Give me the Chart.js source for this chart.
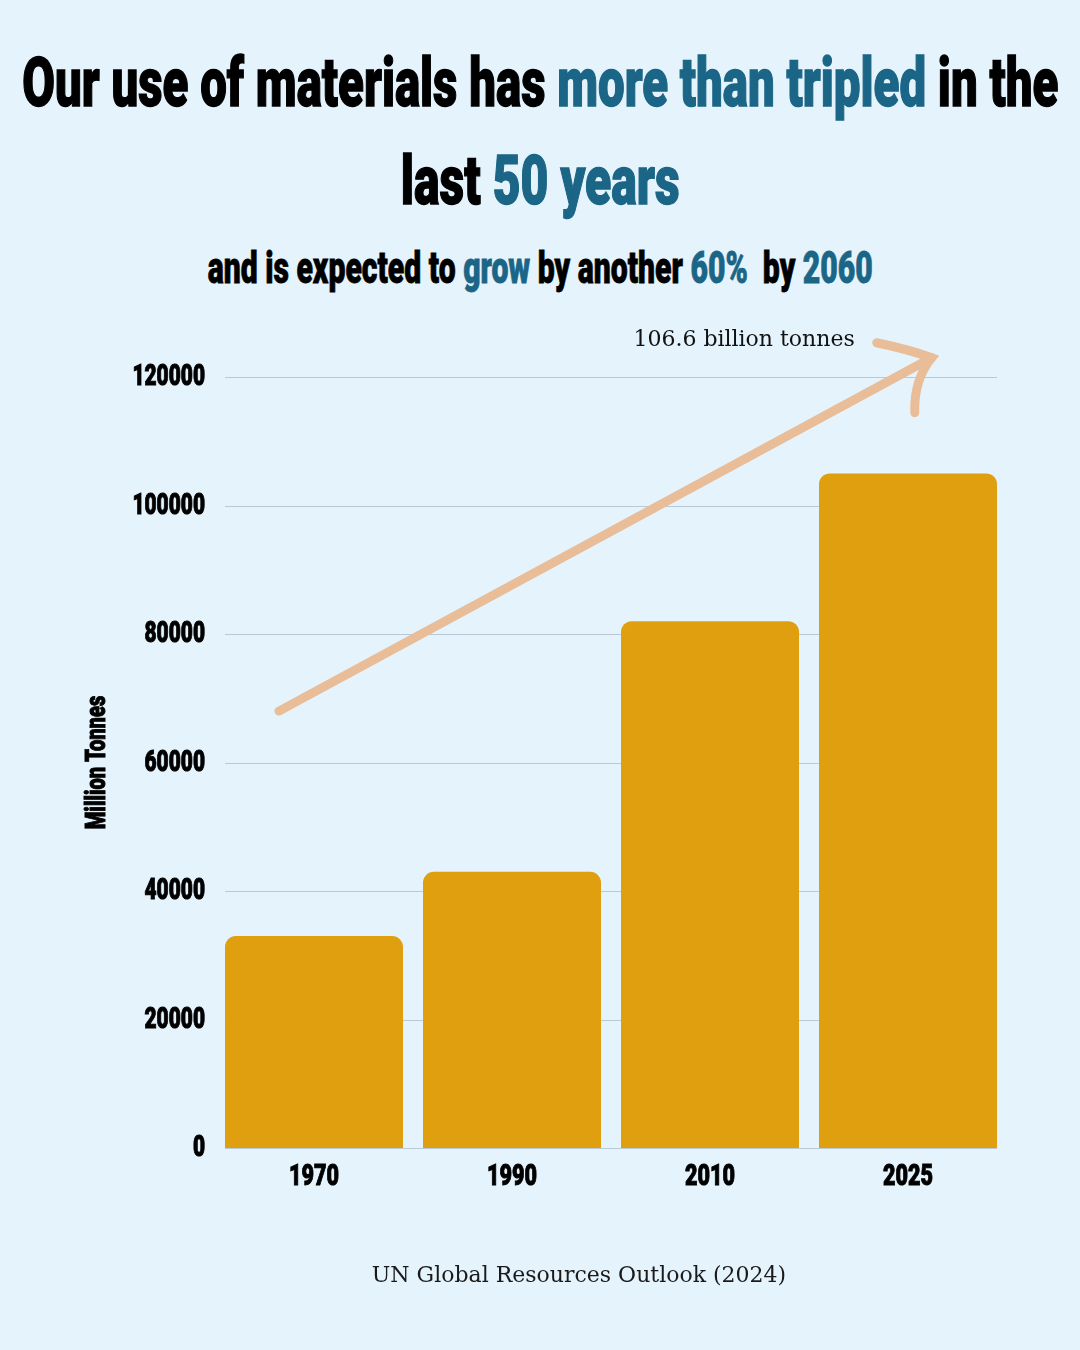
<!DOCTYPE html>
<html>
<head>
<meta charset="utf-8">
<script src="https://cdn.jsdelivr.net/npm/chart.js@4"></script>
<style>
  html, body { margin: 0; padding: 0; }
  body { width: 1080px; height: 1350px; background: #e5f3fc; position: relative; overflow: hidden; }
  .line { position: absolute; left: 0; width: 1080px; display: flex; justify-content: center; white-space: nowrap;
          font-family: Roboto, Inter, "Liberation Sans", sans-serif; font-weight: 900; color: #000;
          -webkit-text-stroke: 1.4px #000; }
  .line span.fit { display: inline-block; flex: none; transform-origin: center; }
  .hl { color: #1b6586; -webkit-text-stroke-color: #1b6586; }
  #t1 { top: 38px; font-size: 68px; line-height: 90px; }
  #t2 { top: 136px; font-size: 68px; line-height: 90px; }
  #t3 { top: 238px; font-size: 44px; line-height: 60px; -webkit-text-stroke-width: 0.8px; }
  #src { position: absolute; left: 39px; width: 1080px; top: 1262px; text-align: center;
         font-family: "DejaVu Serif", "Liberation Serif", serif; font-size: 22px; color: #1a1a1a; }
  #wrap { position: absolute; left: 0; top: 0; width: 1080px; height: 1350px; }
</style>
</head>
<body>
<div class="line" id="t1"><span class="fit" data-w="1036">Our use of materials has <span class="hl">more than tripled</span> in the</span></div>
<div class="line" id="t2"><span class="fit" data-w="279">last <span class="hl">50 years</span></span></div>
<div class="line" id="t3"><span class="fit" data-w="665">and is expected to <span class="hl">grow</span> by another <span class="hl">60%</span>&nbsp; by <span class="hl">2060</span></span></div>
<div id="wrap"><canvas id="chart"></canvas></div>
<div id="src">UN Global Resources Outlook (2024)</div>
<script>
// data
var years = ['1970', '1990', '2010', '2025'];
var materialUse = [33000, 43000, 82000, 105000]; // million tonnes
var yTicks = [0, 20000, 40000, 60000, 80000, 100000, 120000];
var arrowNote = '106.6 billion tonnes';

// squeeze headline lines to the reference widths
document.querySelectorAll('.fit').forEach(function (el) {
  var w = el.getBoundingClientRect().width;
  el.style.transform = 'scaleX(' + (el.dataset.w / w) + ')';
});

var condFont = 'Roboto, Inter, sans-serif';
var squeeze = 0.72;

function narrowText(ctx, txt, x, y, size, align, rot) {
  ctx.save();
  ctx.translate(x, y);
  if (rot) ctx.rotate(rot);
  ctx.scale(squeeze, 1);
  ctx.font = '900 ' + size + 'px ' + condFont;
  ctx.fillStyle = '#000';
  ctx.strokeStyle = '#000';
  ctx.lineWidth = 1;
  ctx.textAlign = align;
  ctx.textBaseline = 'middle';
  ctx.fillText(txt, 0, 0);
  ctx.strokeText(txt, 0, 0);
  ctx.restore();
}

function barSpan(chart) {
  var bars = chart.getDatasetMeta(0).data;
  var first = bars[0], last = bars[bars.length - 1];
  return [first.x - first.width / 2, last.x + last.width / 2];
}

// grid lines only as wide as the row of bars
var gridPlugin = {
  id: 'shortGrid',
  beforeDatasetsDraw: function (chart) {
    var ctx = chart.ctx, ys = chart.scales.y, span = barSpan(chart);
    ctx.save();
    ctx.strokeStyle = '#b9c9d5';
    ctx.lineWidth = 1;
    yTicks.forEach(function (v) {
      var y = Math.round(ys.getPixelForValue(v)) + 0.5;
      ctx.beginPath();
      ctx.moveTo(span[0], y);
      ctx.lineTo(span[1], y);
      ctx.stroke();
    });
    ctx.restore();
  }
};

// tick labels and axis title, drawn narrow at the scale's own positions
var labelPlugin = {
  id: 'narrowLabels',
  afterDraw: function (chart) {
    var ctx = chart.ctx;
    var ys = chart.scales.y, xs = chart.scales.x;
    ys.ticks.forEach(function (t, i) {
      narrowText(ctx, String(t.value), ys.right - 10, ys.getPixelForTick(i) + 1, 29, 'right');
    });
    xs.ticks.forEach(function (t, i) {
      narrowText(ctx, years[i], xs.getPixelForTick(i), xs.top + 29, 30, 'center');
    });
    narrowText(ctx, 'Million Tonnes', 98, (ys.top + ys.bottom) / 2, 28, 'center', -Math.PI / 2);
  }
};

// the hand-drawn style arrow over the bars
var arrowPlugin = {
  id: 'growthArrow',
  afterDatasetsDraw: function (chart) {
    var ctx = chart.ctx, xs = chart.scales.x, ys = chart.scales.y;
    var x0 = xs.getPixelForValue(-0.177), y0 = ys.getPixelForValue(68000);
    var x1 = xs.getPixelForValue(3.12), y1 = ys.getPixelForValue(123000);
    ctx.save();
    ctx.strokeStyle = '#e8bd98';
    ctx.lineWidth = 9;
    ctx.lineCap = 'round';
    ctx.beginPath();
    ctx.moveTo(x0, y0);
    ctx.lineTo(x1, y1);
    ctx.stroke();
    ctx.beginPath();
    ctx.moveTo(x1 - 55, y1 - 15);
    ctx.quadraticCurveTo(x1 - 22, y1 - 8, x1, y1);
    ctx.quadraticCurveTo(x1 - 18, y1 + 22, x1 - 17, y1 + 55);
    ctx.stroke();
    ctx.fillStyle = '#111';
    ctx.font = '22px "DejaVu Serif", "Liberation Serif", serif';
    ctx.textAlign = 'right';
    ctx.textBaseline = 'middle';
    ctx.fillText(arrowNote, x1 - 77, y1 - 17);
    ctx.restore();
  }
};

new Chart(document.getElementById('chart'), {
  type: 'bar',
  data: {
    labels: years,
    datasets: [{
      data: materialUse,
      backgroundColor: '#df9f0e',
      borderRadius: { topLeft: 11, topRight: 11, bottomLeft: 0, bottomRight: 0 },
      borderSkipped: 'bottom',
      barPercentage: 0.899,
      categoryPercentage: 1
    }]
  },
  options: {
    responsive: true,
    maintainAspectRatio: false,
    animation: false,
    layout: { padding: { left: 0, right: 73, top: 377, bottom: 122 } },
    plugins: { legend: { display: false }, tooltip: { enabled: false } },
    scales: {
      x: {
        grid: { display: false },
        border: { display: false },
        ticks: { display: false },
        afterFit: function (s) { s.height = 80; }
      },
      y: {
        min: 0,
        max: 120000,
        afterBuildTicks: function (s) { s.ticks = yTicks.map(function (v) { return { value: v }; }); },
        grid: { display: false },
        border: { display: false },
        ticks: { display: false },
        afterFit: function (s) { s.width = 215; }
      }
    }
  },
  plugins: [gridPlugin, labelPlugin, arrowPlugin]
});
</script>
</body>
</html>
